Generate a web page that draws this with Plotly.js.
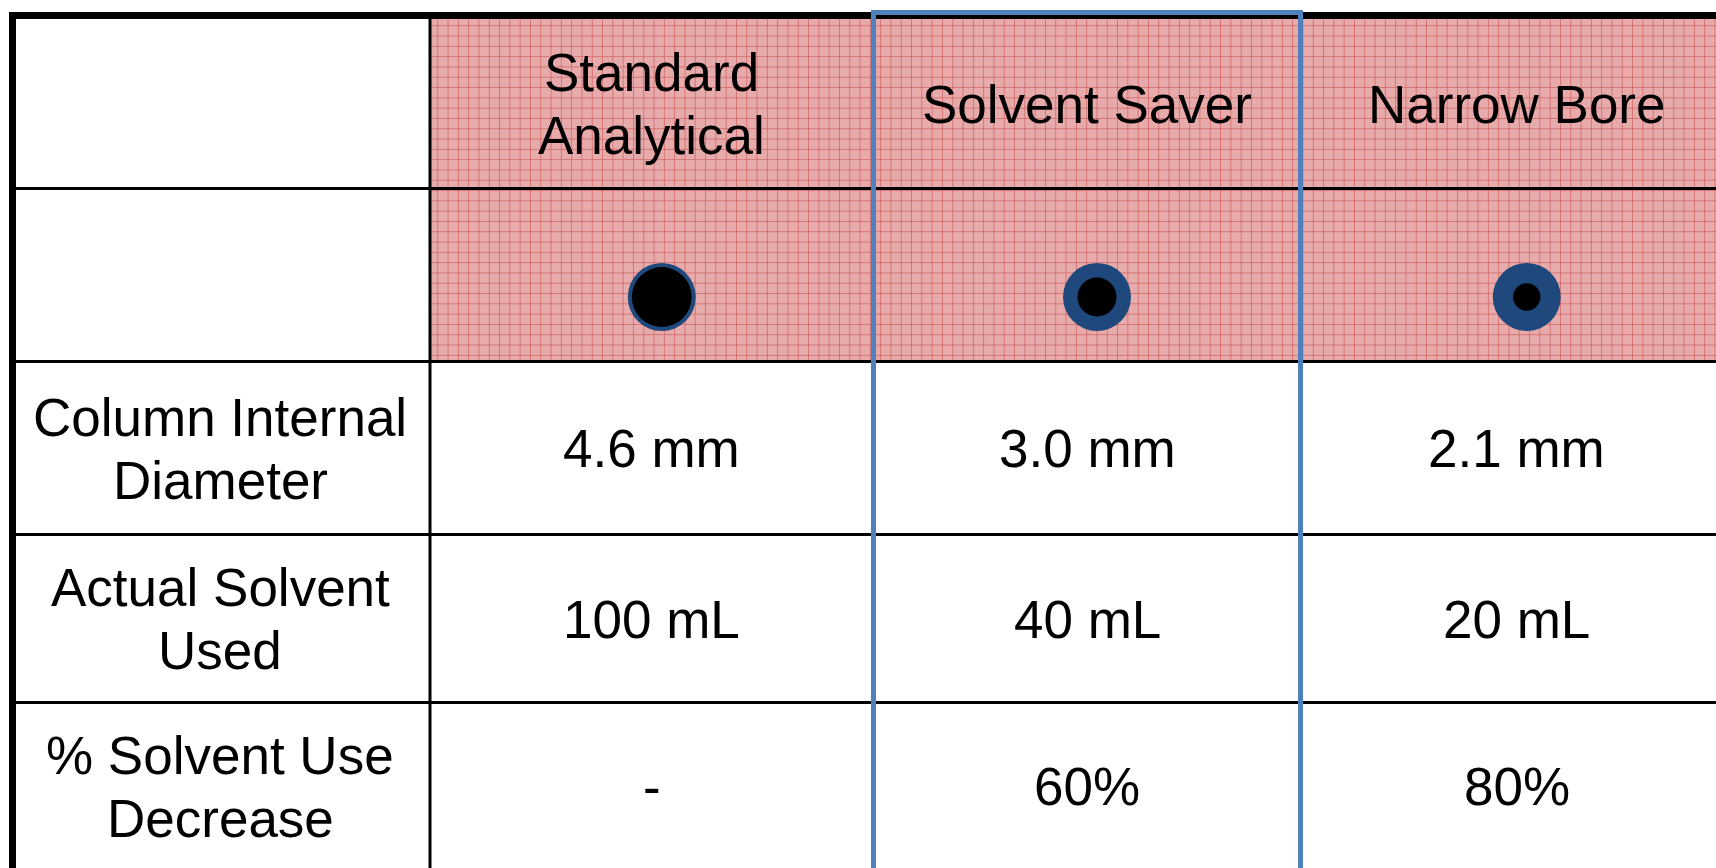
<!DOCTYPE html>
<html>
<head>
<meta charset="utf-8">
<script src="https://cdn.plot.ly/plotly-3.0.1.min.js"></script>
<style>html,body{margin:0;padding:0;background:#fff;}#chart{width:1716px;height:868px;}</style>
</head>
<body>
<div id="chart"></div>
<script>
// ---- data ----
const columnNames = ['Standard<br>Analytical', 'Solvent Saver', 'Narrow Bore'];
const rowLabels = ['Column Internal<br>Diameter', 'Actual Solvent<br>Used', '% Solvent Use<br>Decrease'];
const internalDiameter = ['4.6 mm', '3.0 mm', '2.1 mm'];
const solventUsed = ['100 mL', '40 mL', '20 mL'];
const solventDecrease = ['-', '60%', '80%'];
const diameterMm = [4.6, 3.0, 2.1];

// ---- layout constants (pixel space) ----
const W = 1716, H = 868;
const colEdges = [16, 430, 873.5, 1300.5, 1733];
const rowEdges = [19, 188.5, 361.5, 534.5, 702.5, 870];
const lineGap = 63;
const textDy = 0.5;
const labelDx = -3;
const circleY = 297, circleDx = 10;
const outerSize = 68, mmToPx = 13;
const FONT = {family: 'Liberation Sans, Arial, sans-serif', size: 53, color: '#000000'};

const colCenter = i => (colEdges[i] + colEdges[i + 1]) / 2;
const rowCenter = j => (rowEdges[j] + rowEdges[j + 1]) / 2;

const annotations = [];
function addText(text, x, y) {
  const lines = text.split('<br>');
  lines.forEach((ln, k) => {
    annotations.push({
      x: x, y: y + (k - (lines.length - 1) / 2) * lineGap + textDy,
      xref: 'x', yref: 'y', text: ln, showarrow: false,
      xanchor: 'center', yanchor: 'middle', font: FONT
    });
  });
}
columnNames.forEach((t, i) => addText(t, colCenter(i + 1), rowCenter(0)));
rowLabels.forEach((t, j) => addText(t, colCenter(0) + labelDx, rowCenter(j + 2)));
[internalDiameter, solventUsed, solventDecrease].forEach((vals, j) => {
  vals.forEach((v, i) => addText(v, colCenter(i + 1), rowCenter(j + 2)));
});

// pink patterned header region
const pink = {
  type: 'bar',
  x: [(colEdges[1] + colEdges[4]) / 2],
  width: [colEdges[4] - colEdges[1]],
  base: [rowEdges[0]],
  y: [rowEdges[2] - rowEdges[0]],
  marker: {
    color: '#e6a9a9',
    line: {width: 0},
    pattern: {shape: '+', size: 10.3, solidity: 0.13, fgcolor: '#cf5f5f', bgcolor: '#e7abab', fillmode: 'replace'}
  },
  hoverinfo: 'skip', showlegend: false
};

const cx = columnNames.map((_, i) => colCenter(i + 1) + circleDx);
const outer = {
  type: 'scatter', mode: 'markers', x: cx, y: cx.map(() => circleY),
  marker: {size: outerSize, color: '#1f497d', opacity: 1, line: {width: 0}},
  hoverinfo: 'skip', showlegend: false
};
const inner = {
  type: 'scatter', mode: 'markers', x: cx, y: cx.map(() => circleY),
  marker: {size: diameterMm.map(d => d * mmToPx), color: '#000000', opacity: 1, line: {width: 0}},
  hoverinfo: 'skip', showlegend: false
};

const shapes = [];
// row dividers
for (let j = 1; j <= 4; j++) {
  shapes.push({type: 'line', xref: 'x', yref: 'y', x0: colEdges[0], x1: W + 20, y0: rowEdges[j], y1: rowEdges[j],
    line: {color: '#000', width: 3}, layer: 'above'});
}
// column dividers
for (let i = 1; i <= 3; i++) {
  shapes.push({type: 'line', xref: 'x', yref: 'y', x0: colEdges[i], x1: colEdges[i], y0: rowEdges[0], y1: H + 20,
    line: {color: '#000', width: 3}, layer: 'above'});
}
// outer border top and left (filled bands, paper coordinates)
shapes.push({type: 'rect', xref: 'paper', yref: 'paper', x0: 9 / W, x1: 1, y0: 1 - 12 / H, y1: 1 - 19 / H,
  line: {width: 0}, fillcolor: '#000', layer: 'above'});
shapes.push({type: 'rect', xref: 'paper', yref: 'paper', x0: 9 / W, x1: 16 / W, y0: 1 - 12 / H, y1: 0,
  line: {width: 0}, fillcolor: '#000', layer: 'above'});
// blue highlight box around "Solvent Saver"
shapes.push({type: 'rect', xref: 'x', yref: 'y', x0: colEdges[2], x1: colEdges[3], y0: 12.5, y1: H + 30,
  line: {color: '#4f81bd', width: 5}, fillcolor: 'rgba(0,0,0,0)', layer: 'above'});

const layout = {
  width: W, height: H,
  margin: {l: 0, r: 0, t: 0, b: 0, pad: 0},
  paper_bgcolor: '#fff', plot_bgcolor: '#fff',
  xaxis: {range: [0, W], visible: false, fixedrange: true},
  yaxis: {range: [H, 0], visible: false, fixedrange: true},
  bargap: 0,
  showlegend: false,
  hovermode: false,
  shapes: shapes,
  annotations: annotations
};

Plotly.newPlot('chart', [pink, outer, inner], layout, {displayModeBar: false, staticPlot: true});
</script>
</body>
</html>
